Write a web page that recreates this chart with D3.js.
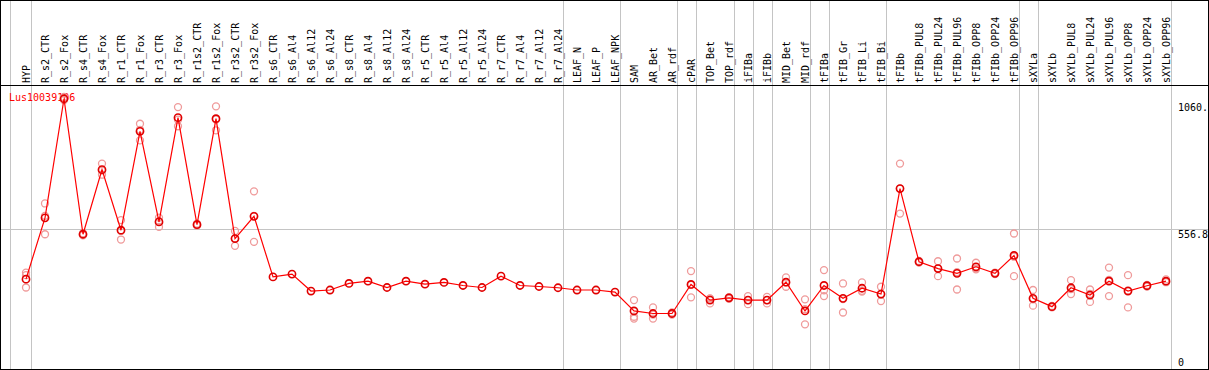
<!DOCTYPE html>
<html>
<head>
<meta charset="utf-8">
<script src="https://cdn.jsdelivr.net/npm/d3@7"></script>
<style>
	body { margin: 0; background: #fff; }
	svg { display: block; }
	text { font-family: 'DejaVu Sans Mono', monospace; font-size: 10px; }
</style>
</head>
<body>
<svg width="1209" height="370"></svg>
<script>
const svg = d3.select('svg')
const width = +svg.attr('width')
const height = +svg.attr('height')

const geneName = 'Lus10039106'

const samples = [
	'HYP', 'R_s2_CTR', 'R_s2_Fox', 'R_s4_CTR', 'R_s4_Fox', 'R_r1_CTR', 'R_r1_Fox', 'R_r3_CTR', 'R_r3_Fox',
	'R_r1s2_CTR', 'R_r1s2_Fox', 'R_r3s2_CTR', 'R_r3s2_Fox', 'R_s6_CTR', 'R_s6_Al4', 'R_s6_Al12', 'R_s6_Al24',
	'R_s8_CTR', 'R_s8_Al4', 'R_s8_Al12', 'R_s8_Al24', 'R_r5_CTR', 'R_r5_Al4', 'R_r5_Al12', 'R_r5_Al24',
	'R_r7_CTR', 'R_r7_Al4', 'R_r7_Al12', 'R_r7_Al24', 'LEAF_N', 'LEAF_P', 'LEAF_NPK', 'SAM', 'AR_Bet', 'AR_rdf',
	'cPAR', 'TOP_Bet', 'TOP_rdf', 'iFIBa', 'iFIBb', 'MID_Bet', 'MID_rdf', 'tFIBa', 'tFIB_Gr', 'tFIB_Li', 'tFIB_Bi',
	'tFIBb', 'tFIBb_PUL8', 'tFIBb_PUL24', 'tFIBb_PUL96', 'tFIBb_OPP8', 'tFIBb_OPP24', 'tFIBb_OPP96',
	'sXYLa', 'sXYLb', 'sXYLb_PUL8', 'sXYLb_PUL24', 'sXYLb_PUL96', 'sXYLb_OPP8', 'sXYLb_OPP24', 'sXYLb_OPP96'
]

const means = [
	356, 599, 1071, 534, 790, 550, 942, 583, 996,
	572, 992, 517, 605, 365, 376, 309, 313,
	339, 348, 323, 348, 336, 343, 331, 323,
	368, 331, 327, 322, 313, 313, 305, 230, 220, 220,
	335, 273, 282, 273, 273, 344, 230, 331, 280, 320, 297,
	715, 425, 398, 379, 405, 379, 450,
	280, 247, 322, 293, 348, 309, 330, 348
]

// replicates (null = none drawn)
const rep1 = [
	382, 656, 1078, 538, 814, 590, 972, 600, 1038,
	576, 1041, 547, 704, null, null, null, null,
	null, null, null, null, null, null, null, null,
	null, null, null, null, null, null, null, 273, 244, 224,
	388, 280, 285, 289, 286, 363, 276, 392, 339, 343, 326,
	814, 428, 427, 438, 421, 382, 537,
	313, 250, 352, 315, 402, 372, 333, 355
]
const rep2 = [
	323, 534, 1066, 530, 770, 513, 906, 563, 962,
	568, 946, 488, 504, null, null, null, null,
	null, null, null, null, null, null, null, null,
	null, null, null, null, null, null, null, 207, 200, 216,
	284, 260, 278, 257, 260, 326, 177, 289, 224, 310, 269,
	616, 422, 368, 315, 395, 376, 368,
	251, 244, 297, 266, 289, 244, 327, 345
]
const rep3 = [
	372, 607, 1069, 534, 786, 547, 948, 586, 988,
	572, 989, 516, 607, null, null, null, null,
	null, null, null, null, null, null, null, null,
	null, null, null, null, null, null, null, 200, 216, 220,
	333, 279, 283, 273, 273, 343, 237, 312, 277, 307, 296,
	715, 425, 399, 384, 399, 379, 445,
	276, 247, 317, 298, 353, 311, 330, 344
]

// vertical separators are drawn right after these samples
const groupEnds = ['HYP', 'R_r7_Al24', 'LEAF_NPK', 'AR_rdf', 'cPAR', 'TOP_rdf', 'iFIBa', 'iFIBb',
	'MID_rdf', 'tFIBa', 'tFIB_Bi', 'tFIBb_OPP96', 'sXYLa', 'sXYLb_OPP96']

const yTicks = [0, 556.8, 1060]
const yTickLabels = ['0', '556.8', '1060.']

const headerY = 85
const bottomY = 369

const x = d3.scalePoint()
	.domain(samples)
	.range([26, 1166])

const y = d3.scaleLinear()
	.domain([0, 556.8])
	.range([bottomY, 228.5])

const grey = '#c4c4c4'

/*

GRID

*/
svg.append('line')
	.attr('x1', x(samples[0]) - 15.5).attr('x2', x(samples[0]) - 15.5)
	.attr('y1', 0).attr('y2', bottomY)
	.attr('stroke', grey)

svg.selectAll('.sep')
	.data(groupEnds)
	.enter()
	.append('line')
	.attr('class', 'sep')
	.attr('x1', d => Math.round(x(d) + 4.5) + 0.5)
	.attr('x2', d => Math.round(x(d) + 4.5) + 0.5)
	.attr('y1', 0)
	.attr('y2', bottomY)
	.attr('stroke', grey)

svg.append('line')
	.attr('x1', 0).attr('x2', width)
	.attr('y1', Math.round(y(556.8)) + 0.5).attr('y2', Math.round(y(556.8)) + 0.5)
	.attr('stroke', grey)

/*

FRAME

*/
const frame = [
	[0, 0.5, width, 0.5],
	[0, headerY + 0.5, width, headerY + 0.5],
	[0, bottomY + 0.5, width, bottomY + 0.5],
	[0.5, 0, 0.5, height],
	[width - 0.5, 0, width - 0.5, height]
]
svg.selectAll('.frame')
	.data(frame)
	.enter()
	.append('line')
	.attr('x1', d => d[0]).attr('y1', d => d[1])
	.attr('x2', d => d[2]).attr('y2', d => d[3])
	.attr('stroke', '#000')

/*

LABELS

*/
svg.selectAll('.col')
	.data(samples)
	.enter()
	.append('text')
	.attr('class', 'col')
	.attr('transform', d => `translate(${x(d) + 4},${headerY - 2}) rotate(-90)`)
	.attr('fill', '#000')
	.text(d => d)

svg.selectAll('.ytick')
	.data(yTicks)
	.enter()
	.append('text')
	.attr('class', 'ytick')
	.attr('x', 1178)
	.attr('y', d => d === 0 ? y(d) - 3 : y(d) + 9)
	.attr('fill', '#000')
	.text((d, i) => yTickLabels[i])

svg.append('text')
	.attr('x', 9)
	.attr('y', 101)
	.attr('fill', '#ff0000')
	.text(geneName)

/*

REPLICATES, MEAN LINE, MARKERS

*/
const reps = []
;[rep1, rep2, rep3].forEach(r => r.forEach((v, i) => {
	if (v !== null) reps.push({ s: samples[i], v })
}))

svg.selectAll('.rep')
	.data(reps)
	.enter()
	.append('circle')
	.attr('class', 'rep')
	.attr('cx', d => x(d.s))
	.attr('cy', d => y(d.v))
	.attr('r', 3.5)
	.attr('fill', 'none')
	.attr('stroke', '#ef9a9a')
	.attr('stroke-width', 1.3)

const line = d3.line()
	.x((d, i) => x(samples[i]))
	.y(d => y(d))

svg.append('path')
	.datum(means)
	.attr('d', line)
	.attr('fill', 'none')
	.attr('stroke', '#ff0000')
	.attr('stroke-width', 1.2)

svg.selectAll('.mean')
	.data(means)
	.enter()
	.append('circle')
	.attr('class', 'mean')
	.attr('cx', (d, i) => x(samples[i]))
	.attr('cy', d => y(d))
	.attr('r', 3.6)
	.attr('fill', 'none')
	.attr('stroke', '#e00000')
	.attr('stroke-width', 1.6)
</script>
</body>
</html>
